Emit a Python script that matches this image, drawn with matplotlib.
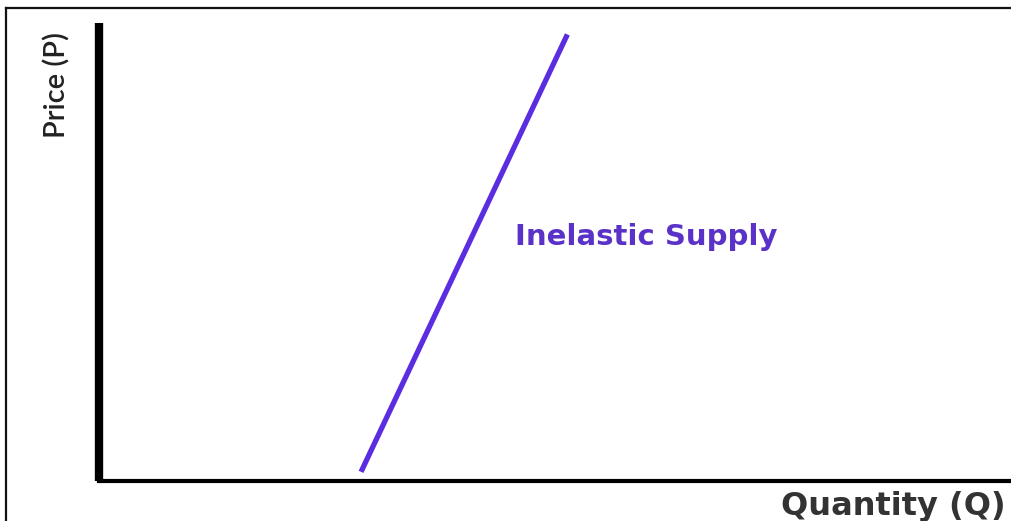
import matplotlib
matplotlib.use("Agg")
import matplotlib.pyplot as plt
from matplotlib.lines import Line2D

# supply curve end points (quantity, price)
supply_q = [2.87, 5.13]
supply_p = [0.2, 9.75]
supply_label = "Inelastic Supply"

W, H = 1012, 521
fig = plt.figure(figsize=(W / 100, H / 100), dpi=100)
fig.patch.set_facecolor("white")

# frame around the diagram (left and top edges only show)
fig.add_artist(Line2D([6 / W, 6 / W], [0, 1 - 8 / H], transform=fig.transFigure,
                      color="#111111", lw=1.6))
fig.add_artist(Line2D([6 / W, 1], [1 - 8 / H, 1 - 8 / H], transform=fig.transFigure,
                      color="#111111", lw=1.6))

left, bottom, top = 99, 481, 23
ax = fig.add_axes([left / W, (H - bottom) / H, (W - left) / W, (bottom - top) / H])
ax.set_xlim(0, 10)
ax.set_ylim(0, 10)
ax.set_xticks([])
ax.set_yticks([])
ax.spines["top"].set_visible(False)
ax.spines["right"].set_visible(False)
ax.spines["left"].set_linewidth(6)
ax.spines["bottom"].set_linewidth(3)
ax.spines["left"].set_capstyle("butt")
ax.patch.set_alpha(0)

ax.plot(supply_q, supply_p, color="#5a2de0", lw=3.8, solid_capstyle="butt")

ax.text(4.555, 5.33, supply_label, color="#5a32c8", fontsize=21,
        fontweight="bold", family="DejaVu Sans", va="center", ha="left")

fig.text(57 / W, 1 - 85 / H, "Price (P)", rotation=90, ha="center", va="center",
         fontsize=21, color="#222222", family="Lato", fontweight="semibold")
fig.text(781 / W, 1 - 506 / H, "Quantity (Q)", ha="left", va="center",
         fontsize=23, color="#333333", family="DejaVu Sans", fontweight="bold")

fig.savefig("out.png", dpi=100)
